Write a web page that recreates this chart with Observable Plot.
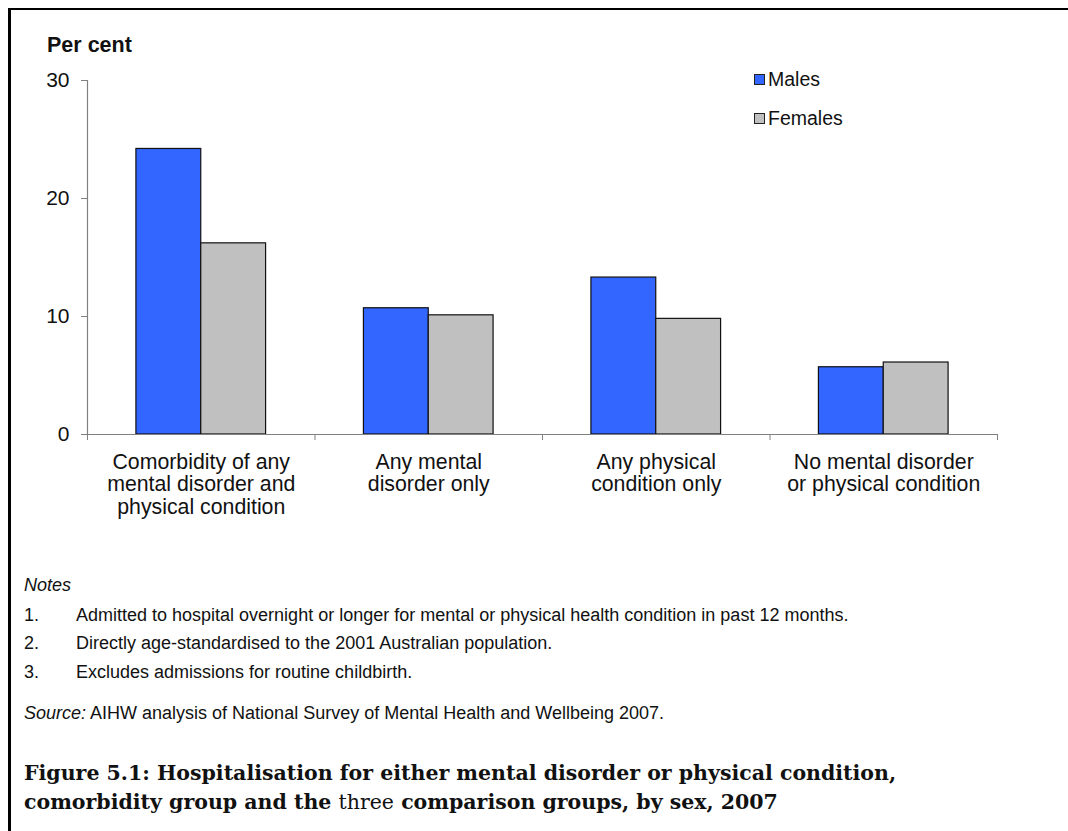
<!DOCTYPE html>
<html>
<head>
<meta charset="utf-8">
<script src="https://cdn.jsdelivr.net/npm/d3@7"></script>
<script src="https://cdn.jsdelivr.net/npm/@observablehq/plot@0.6"></script>
<style>
  html, body { margin: 0; padding: 0; background: #fff; }
  body { width: 1068px; height: 831px; overflow: hidden; position: relative;
         font-family: Arial, "Liberation Sans", sans-serif; color: #111; }
  #frame { position: absolute; left: 8px; top: 8px; right: -5px; bottom: -5px;
           border-top: 2px solid #000; border-left: 3px solid #000; }
  #chart { position: absolute; left: 0; top: 0; }
  #chart svg { background: transparent; overflow: visible; }
  .t { position: absolute; white-space: nowrap; }
  .ylab { left: 47px; top: 33px; font-size: 21.5px; line-height: 24px; font-weight: bold; }
  .leg { font-size: 19.5px; line-height: 22px; left: 754px; display: flex; align-items: center; }
  .sw { width: 9px; height: 9px; border: 1px solid #222; margin-right: 3px; }
  .note { font-size: 18px; line-height: 20px; }
  .title { font-family: "DejaVu Serif", "Liberation Serif", serif; font-weight: bold;
           font-size: 20.5px; line-height: 24px; left: 24px; }
  .title .n { font-weight: normal; }
</style>
</head>
<body>
<div id="frame"></div>
<div id="chart"></div>
<div class="t ylab">Per cent</div>
<div id="legend"></div>
<div class="t note" style="left:24px; top:575px; font-style:italic;">Notes</div>
<div id="notes"></div>
<div class="t note" style="left:24px; top:703px;"><i>Source:</i> AIHW analysis of National Survey of Mental Health and Wellbeing 2007.</div>
<div class="t title" style="top:761px;">Figure 5.1: Hospitalisation for either mental disorder or physical condition,</div>
<div class="t title" style="top:790px;">comorbidity group and the <span class="n">three</span> comparison groups, by sex, 2007</div>

<script>
// ---- Data ----
const categories = [
  "Comorbidity of any\nmental disorder and\nphysical condition",
  "Any mental\ndisorder only",
  "Any physical\ncondition only",
  "No mental disorder\nor physical condition"
];
const series = ["Males", "Females"];
const males = [24.2, 10.7, 13.3, 5.7];
const females = [16.2, 10.1, 9.8, 6.1];
const yTicks = [0, 10, 20, 30];
const seriesColors = ["#3366FF", "#C0C0C0"];
const notes = [
  "Admitted to hospital overnight or longer for mental or physical health condition in past 12 months.",
  "Directly age-standardised to the 2001 Australian population.",
  "Excludes admissions for routine childbirth."
];

// ---- Table built from the arrays ----
const values = {Males: males, Females: females};
const rows = categories.flatMap((c, i) =>
  series.map((s, k) => ({i, k, category: c, sex: s, value: values[s][i]}))
);

// bar placement within each category slot (fraction of slot)
const barStart = 0.215, barWidth = 0.285;

const chart = Plot.plot({
  width: 1040,
  height: 540,
  marginLeft: 87,
  marginRight: 43,
  marginTop: 80,
  marginBottom: 106,
  style: {fontFamily: "Arial, 'Liberation Sans', sans-serif", fontSize: "21px", color: "#111", background: "transparent"},
  x: {type: "linear", domain: [0, categories.length], axis: null},
  y: {domain: [0, 30], axis: null},
  color: {domain: series, range: seriesColors},
  marks: [
    Plot.rectY(rows, {
      x1: d => d.i + barStart + d.k * barWidth,
      x2: d => d.i + barStart + (d.k + 1) * barWidth,
      y1: 0,
      y2: "value",
      fill: "sex",
      stroke: "#111",
      strokeWidth: 1.2
    }),
    Plot.ruleX([0], {y1: 0, y2: 30, stroke: "#808080", strokeWidth: 1.2}),
    Plot.ruleY([0], {stroke: "#808080", strokeWidth: 1.2}),
    Plot.axisY({ticks: yTicks, tickSize: 6, tickPadding: 12, tickFormat: d => String(d),
                stroke: "#808080", fill: "#111", fontSize: 21, label: null}),
    Plot.axisX({ticks: d3.range(0, categories.length + 1), tickSize: 6, tickFormat: () => "",
                stroke: "#808080", label: null}),
    Plot.text(categories, {
      x: (d, i) => i + 0.5, y: 0, text: d => d,
      dy: 18, lineAnchor: "top", textAnchor: "middle",
      fontSize: 21.3, lineHeight: 1.06, fill: "#111"
    })
  ]
});
document.getElementById("chart").appendChild(chart);

// ---- Legend ----
const leg = document.getElementById("legend");
series.forEach((s, k) => {
  const d = document.createElement("div");
  d.className = "t leg";
  d.style.top = (68 + k * 39) + "px";
  d.innerHTML = `<span class="sw" style="background:${seriesColors[k]}"></span><span>${s}</span>`;
  leg.appendChild(d);
});

// ---- Notes ----
const nb = document.getElementById("notes");
const noteTops = [605, 633, 662];
notes.forEach((n, k) => {
  const a = document.createElement("div");
  a.className = "t note"; a.style.left = "24px"; a.style.top = noteTops[k] + "px";
  a.textContent = (k + 1) + ".";
  const b = document.createElement("div");
  b.className = "t note"; b.style.left = "76px"; b.style.top = noteTops[k] + "px";
  b.textContent = n;
  nb.appendChild(a); nb.appendChild(b);
});
</script>
</body>
</html>
